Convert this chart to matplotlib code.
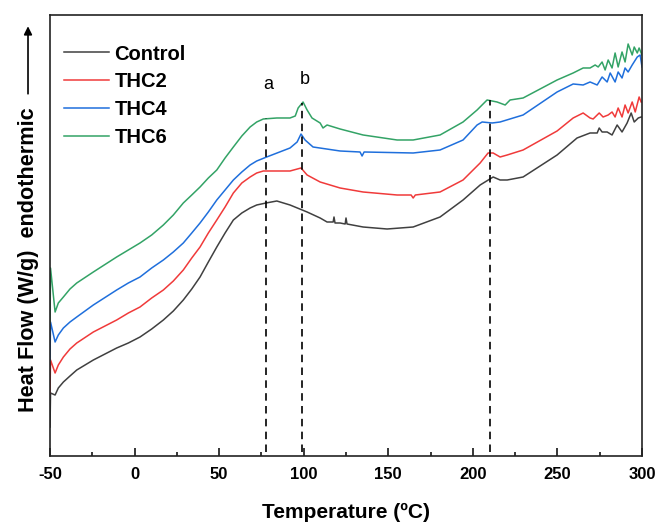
import numpy as np
import matplotlib
matplotlib.use("Agg")
import matplotlib.pyplot as plt
from matplotlib.ticker import MultipleLocator

plt.rcParams["font.family"] = ["Liberation Sans", "DejaVu Sans"]
plt.rcParams["axes.unicode_minus"] = False

# DSC traces (heat flow in arbitrary units, curves offset for clarity)
t_green = [-50.0, -49.7, -47.0, -45.1, -42.1, -38.2, -34.2, -24.4, -10.6, -3.7, 3.2, 10.1,
           17.0, 22.9, 28.8, 33.8, 38.7, 43.6, 48.6, 53.5, 58.4, 63.4, 68.3, 72.2, 76.1,
           84.1, 91.9, 95.0, 96.7, 99.6, 102.0, 104.9, 109.7, 111.4, 113.8, 121.5,
           135.1, 155.2, 164.7, 180.6, 194.2, 202.5, 208.4, 214.3, 219.1, 222.0, 229.7, 249.8,
           259.3, 265.2, 269.3, 272.3, 274.1, 276.4, 278.2, 280.0, 282.3, 284.1, 285.9,
           288.2, 290.0, 291.8, 294.2, 295.4, 297.2, 298.3, 300.0]
hf_green = [134, 188, 144, 153, 159, 167, 173, 184, 199, 206, 213, 221,
            231, 241, 253, 261, 269, 278, 286, 298, 309, 320, 329, 334, 337,
            338, 338, 340, 348, 354, 346, 338, 333, 328, 331, 327,
            321, 316, 316, 321, 334, 346, 356, 354, 351, 356, 358, 376,
            383, 388, 388, 391, 389, 394, 386, 396, 388, 403, 389,
            404, 394, 412, 401, 409, 403, 408, 401]

t_blue = [-50.0, -49.7, -47.0, -45.1, -42.1, -38.2, -34.2, -24.4, -10.6, -3.7, 3.2, 10.1,
          17.0, 22.9, 28.8, 33.8, 38.7, 43.6, 48.6, 53.5, 58.4, 63.4, 68.3, 72.2, 78.1,
          91.9, 96.1, 98.4, 100.8, 105.5, 121.5, 133.3, 134.5, 135.7, 164.7,
          180.6, 194.2, 202.5, 205.5, 211.4, 216.1, 229.7, 249.8, 259.3, 265.2, 269.3,
          273.5, 276.4, 279.4, 281.2, 284.1, 285.9, 288.2, 290.0, 291.8, 294.2, 297.2,
          298.9, 300.0]
hf_blue = [96, 134, 114, 121, 128, 134, 139, 151, 166, 173, 179, 188,
           196, 204, 213, 223, 233, 244, 256, 266, 276, 284, 291, 295, 299,
           308, 314, 322, 316, 309, 305, 304, 300, 304, 303,
           306, 316, 331, 334, 333, 334, 341, 364, 372, 371, 374,
           371, 379, 374, 383, 374, 384, 378, 388, 384, 391, 399,
           401, 389]

t_red = [-50.0, -49.7, -47.0, -45.1, -42.1, -38.2, -34.2, -24.4, -10.6, -3.7, 3.2, 10.1,
         17.0, 22.9, 28.8, 33.8, 38.7, 43.6, 48.6, 53.5, 58.4, 63.4, 68.3, 72.2, 76.1,
         84.1, 91.9, 98.4, 102.0, 109.7, 121.5, 135.1, 155.2, 163.5, 164.7, 166.0,
         180.6, 194.2, 204.3, 209.0, 212.0, 216.1, 220.3, 229.7, 249.8, 259.3, 265.2, 269.3,
         271.1, 274.7, 277.0, 280.0, 282.3, 284.1, 285.9, 288.2, 290.0, 291.8, 294.2, 296.0,
         298.3, 299.5]
hf_red = [63, 96, 83, 91, 99, 107, 113, 124, 136, 143, 149, 158,
          166, 175, 186, 198, 209, 223, 236, 249, 263, 273, 279, 283, 285,
          285, 285, 288, 281, 274, 268, 264, 261, 261, 258, 261,
          264, 276, 293, 303, 303, 299, 301, 306, 325, 338, 343, 338,
          337, 343, 339, 341, 344, 339, 348, 339, 351, 343, 354, 344,
          359, 354]

t_ctrl = [-50.0, -49.7, -47.0, -45.1, -42.1, -38.2, -34.2, -24.4, -10.6, -3.7, 3.2, 10.1,
          17.0, 22.9, 28.8, 33.8, 38.7, 43.6, 48.6, 53.5, 58.4, 63.4, 68.3, 72.2, 77.7,
          84.1, 91.9, 102.0, 109.7, 113.8, 117.4, 117.9, 118.5, 121.5, 124.5,
          125.0, 125.6, 135.1, 149.3, 164.7, 180.6, 194.2, 204.3, 212.0, 216.1, 220.3, 229.7,
          249.8, 261.6, 269.3, 273.5, 274.7, 276.4, 279.4, 282.3, 285.3, 288.2, 291.2,
          293.6, 295.4, 297.8, 299.5]
hf_ctrl = [29, 63, 61, 68, 74, 80, 86, 96, 108, 113, 119, 127,
           136, 145, 156, 167, 179, 194, 209, 223, 236, 243, 248, 251, 253,
           255, 251, 244, 238, 234, 234, 239, 233, 233, 232,
           238, 232, 229, 227, 229, 239, 256, 271, 279, 276, 276, 279,
           301, 318, 323, 323, 328, 324, 324, 321, 331, 324, 333,
           343, 334, 338, 339]

names = ["Control", "THC2", "THC4", "THC6"]
colors = ["#404040", "#f03a3a", "#1f6fdc", "#33a366"]
series = [(t_ctrl, hf_ctrl), (t_red, hf_red), (t_blue, hf_blue), (t_green, hf_green)]

marks = [77.9, 99.0, 210.3]      # dashed guide temperatures
mark_tops = [338, 353, 356]      # where each guide meets the THC6 trace

fig = plt.figure(figsize=(6.59, 5.22), dpi=100)
ax = fig.add_axes([0.0759, 0.1264, 0.8983, 0.8449])

for (t, hf), c, n in zip(series, colors, names):
    ax.plot(t, hf, color=c, lw=1.1, label=n)

for m, top in zip(marks, mark_tops):
    ax.plot([m, m], [4, top], color="black", lw=1.2, linestyle=(0, (4.5, 3.2)))

ax.text(78.9, 371, "a", fontsize=13, ha="center", va="center")
ax.text(100.8, 376, "b", fontsize=13, ha="center", va="center")

ax.set_xlim(-50, 300)
ax.set_ylim(0, 441)
ax.xaxis.set_major_locator(MultipleLocator(50))
ax.xaxis.set_minor_locator(MultipleLocator(25))
ax.tick_params(axis="x", which="major", direction="in", length=6, width=1.1, pad=8,
               labelsize=12)
ax.tick_params(axis="x", which="minor", direction="in", length=3, width=1.1)
ax.set_yticks([])
for lab in ax.get_xticklabels():
    lab.set_fontweight("bold")
for s in ax.spines.values():
    s.set_linewidth(1.2)
    s.set_color("#222222")

ax.set_xlabel("Temperature (ºC)", fontsize=15, fontweight="bold", labelpad=15)

fig.text(0.044, 0.502, "Heat Flow (W/g)  endothermic", rotation=90, fontsize=15.6,
         fontweight="bold", ha="center", va="center")
fig.add_artist(plt.Annotation("", xy=(0.0425, 0.955), xytext=(0.0425, 0.815),
                              xycoords="figure fraction",
                              arrowprops=dict(arrowstyle="-|>", color="black", lw=1.2,
                                              mutation_scale=12)))

leg = ax.legend(loc="upper left", bbox_to_anchor=(0.0, 0.965), frameon=False,
                fontsize=14.5, handlelength=2.24, handletextpad=0.25, labelspacing=0.44,
                borderaxespad=0.3)
for txt in leg.get_texts():
    txt.set_fontweight("bold")

fig.savefig("out.png", dpi=100)
